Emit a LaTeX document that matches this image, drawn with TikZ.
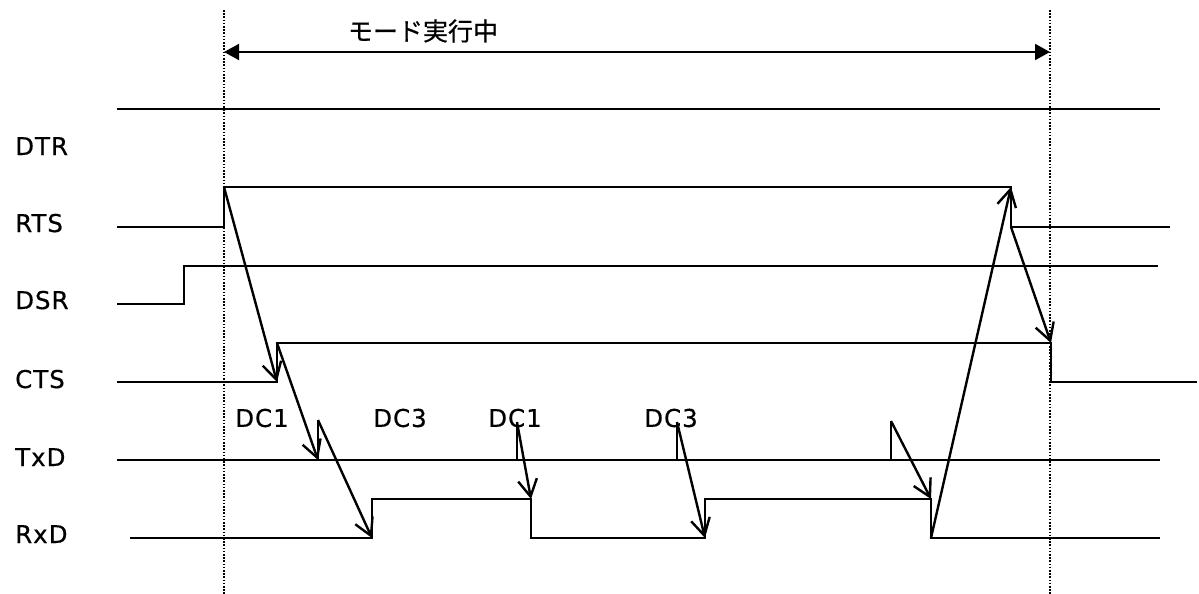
\documentclass[tikz,border=0pt]{standalone}
\usepackage{fontspec}
\setmainfont{DejaVu Sans}
\newfontfamily\jpfont[FakeBold=0.6]{Noto Sans CJK JP}
\usetikzlibrary{arrows.meta}
\begin{document}
\begin{tikzpicture}[x=1pt,y=-1pt,
  sig/.style={line width=1.7pt, line join=miter},
  cause/.style={line width=2.4pt, -{Straight Barb[length=17pt,width=19pt]}},
  guide/.style={line width=1.7pt, dash pattern=on 1.6pt off 1.6pt},
  span/.style={line width=2pt, {Triangle[length=15pt,width=16pt]}-{Triangle[length=15pt,width=16pt]}},
  lbl/.style={font=\fontsize{24.5}{30}\selectfont\addfontfeature{LetterSpace=4,FakeBold=0.5}, inner sep=0pt},
  jp/.style={font=\jpfont\fontsize{25}{30}\selectfont, inner sep=0pt}]
\fill[white] (0,0) rectangle (1199,594);
\useasboundingbox (0,0) rectangle (1199,594);

% guides
\coordinate (gLt) at (224,10); \coordinate (gLb) at (224,594);
\coordinate (gRt) at (1050,10); \coordinate (gRb) at (1050,594);
\draw[guide] (gLt) -- (gLb);
\draw[guide] (gRt) -- (gRb);
\coordinate (mL) at (224,52); \coordinate (mR) at (1050,52);
\draw[span] (mL) -- (mR);
\node[jp] (mode) at (423,31) {モード実行中};

% signal labels
\node[lbl, anchor=base west] (lDTR) at (15,155) {DTR};
\node[lbl, anchor=base west] (lRTS) at (15,232) {RTS};
\node[lbl, anchor=base west] (lDSR) at (15,309) {DSR};
\node[lbl, anchor=base west] (lCTS) at (15,388) {CTS};
\node[lbl, anchor=base west] (lTxD) at (15,466) {TxD};
\node[lbl, anchor=base west] (lRxD) at (15,543) {RxD};

% DTR
\coordinate (dtrA) at (117,109); \coordinate (dtrB) at (1160,109);
\draw[sig] (dtrA) -- (dtrB);

% RTS
\coordinate (rtsA) at (117,227); \coordinate (rtsLo) at (224,227);
\coordinate (rtsUp) at (224,187); \coordinate (rtsHi) at (1011,187);
\coordinate (rtsDn) at (1011,227); \coordinate (rtsB) at (1170,227);
\draw[sig] (rtsA) -- (rtsLo) -- (rtsUp) -- (rtsHi) -- (rtsDn) -- (rtsB);

% DSR
\coordinate (dsrA) at (117,304); \coordinate (dsrLo) at (184,304);
\coordinate (dsrUp) at (184,266); \coordinate (dsrB) at (1158,266);
\draw[sig] (dsrA) -- (dsrLo) -- (dsrUp) -- (dsrB);

% CTS
\coordinate (ctsA) at (117,382); \coordinate (ctsLo) at (277,382);
\coordinate (ctsUp) at (277,343); \coordinate (ctsHi) at (1051,343);
\coordinate (ctsDn) at (1051,382); \coordinate (ctsB) at (1197,382);
\draw[sig] (ctsA) -- (ctsLo) -- (ctsUp) -- (ctsHi) -- (ctsDn) -- (ctsB);

% TxD
\coordinate (txA) at (117,460); \coordinate (txB) at (1160,460);
\draw[sig] (txA) -- (txB);
\coordinate (tx1b) at (318,460); \coordinate (tx1t) at (318,420);
\coordinate (tx2b) at (517,460); \coordinate (tx2t) at (517,422);
\coordinate (tx3b) at (677,460); \coordinate (tx3t) at (677,422);
\coordinate (tx4b) at (891,460); \coordinate (tx4t) at (891,421);
\draw[sig] (tx1b) -- (tx1t);
\draw[sig] (tx2b) -- (tx2t);
\draw[sig] (tx3b) -- (tx3t);
\draw[sig] (tx4b) -- (tx4t);

% RxD
\coordinate (rxA) at (130,538);
\coordinate (rx1b) at (372,538); \coordinate (rx1t) at (372,499);
\coordinate (rx2t) at (531,499); \coordinate (rx2b) at (531,538);
\coordinate (rx3b) at (705,538); \coordinate (rx3t) at (705,499);
\coordinate (rx4t) at (931,499); \coordinate (rx4b) at (931,538);
\coordinate (rxB) at (1160,538);
\draw[sig] (rxA) -- (rx1b) -- (rx1t) -- (rx2t) -- (rx2b) -- (rx3b) -- (rx3t) -- (rx4t) -- (rx4b) -- (rxB);

% DC labels
\node[lbl] (dc1a) at (262,418) {DC1};
\node[lbl] (dc3a) at (400,418) {DC3};
\node[lbl] (dc1b) at (515,418) {DC1};
\node[lbl] (dc3b) at (671,418) {DC3};

% causal arrows
\draw[cause] (rtsUp) -- (ctsLo);
\draw[cause] (ctsUp) -- (tx1b);
\draw[cause] (tx1t) -- (rx1b);
\draw[cause] (tx2t) -- (rx2t);
\draw[cause] (tx3t) -- (rx3b);
\draw[cause] (tx4t) -- (rx4t);
\draw[cause] (rx4b) -- (rtsHi);
\draw[cause] (rtsDn) -- (ctsHi);
\end{tikzpicture}
\end{document}
